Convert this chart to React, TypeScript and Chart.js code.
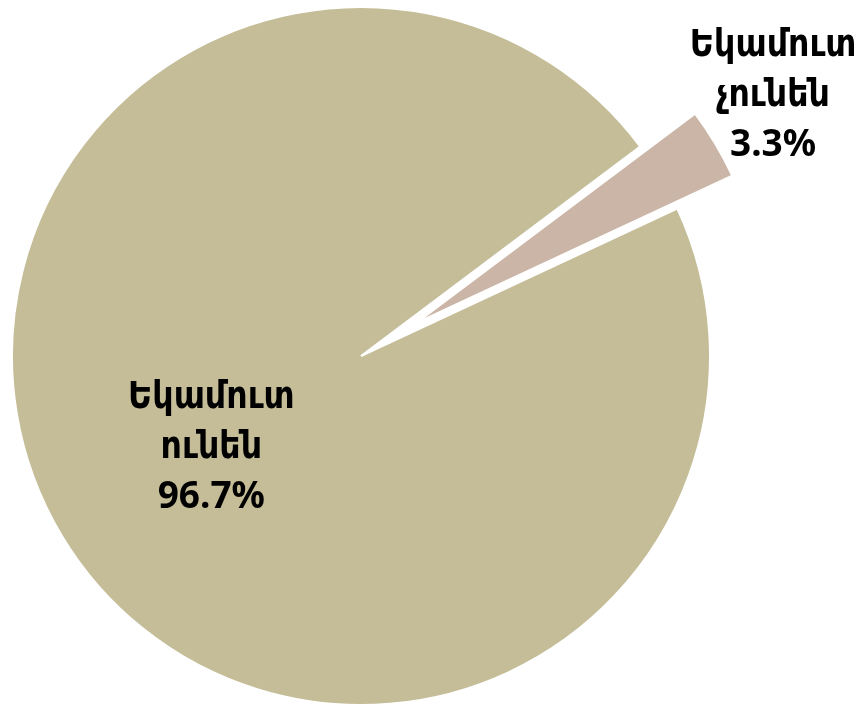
import React, { useEffect, useRef } from "react";
import { Chart, registerables } from "chart.js";

Chart.register(...registerables);

const categories: string[][] = [
  ["Եկամուտ", "ունեն"],
  ["Եկամուտ", "չունեն"],
];
const values: number[] = [96.7, 3.3];
const valueLabels: string[] = ["96.7%", "3.3%"];
const colors: string[] = ["#C4BD97", "#CAB5A7"];
const explode: number[] = [0, 64];

const FONT = "bold 37px 'Noto Sans', 'DejaVu Sans Condensed', 'DejaVu Sans', sans-serif";

// draws each arc element, pushing exploded slices out by a fixed distance
const explodePlugin = {
  id: "explodeSlices",
  beforeDatasetDraw(chart: any, args: any) {
    const meta = args.meta;
    const ctx = chart.ctx;
    meta.data.forEach((arc: any, i: number) => {
      const { startAngle, endAngle } = arc.getProps(["startAngle", "endAngle"], true);
      const mid = (startAngle + endAngle) / 2;
      const d = explode[i] || 0;
      ctx.save();
      ctx.translate(Math.cos(mid) * d, Math.sin(mid) * d);
      arc.draw(ctx, chart.chartArea);
      ctx.restore();
    });
    return false;
  },
};

const labelPlugin = {
  id: "sliceLabels",
  afterDatasetsDraw(chart: any) {
    const meta = chart.getDatasetMeta(0);
    const ctx = chart.ctx;
    ctx.save();
    ctx.font = FONT;
    ctx.fillStyle = "#000";
    ctx.textAlign = "center";
    ctx.textBaseline = "alphabetic";
    meta.data.forEach((arc: any, i: number) => {
      const { x, y, startAngle, endAngle, outerRadius } = arc.getProps(
        ["x", "y", "startAngle", "endAngle", "outerRadius"],
        true
      );
      const mid = (startAngle + endAngle) / 2;
      const off = explode[i] || 0;
      const ox = x + Math.cos(mid) * off;
      const oy = y + Math.sin(mid) * off;
      let cx: number, cy: number;
      if (i === 0) {
        cx = ox + Math.cos(mid) * outerRadius * 0.5;
        cy = oy + Math.sin(mid) * outerRadius * 0.5;
      } else {
        const a = mid - 0.0304;
        cx = ox + Math.cos(a) * outerRadius * 1.216;
        cy = oy + Math.sin(a) * outerRadius * 1.216;
      }
      const lines = [...categories[i], valueLabels[i]];
      const lh = 50;
      lines.forEach((t, k) => {
        ctx.fillText(t, cx, cy + (k - 1) * lh + 12);
      });
    });
    ctx.restore();
  },
};

export default function App() {
  const ref = useRef<HTMLCanvasElement | null>(null);
  useEffect(() => {
    if (!ref.current) return;
    const chart = new Chart(ref.current, {
      type: "pie",
      data: {
        labels: categories.map((c) => c.join(" ")),
        datasets: [
          {
            data: values,
            backgroundColor: colors,
            borderColor: "#ffffff",
            borderWidth: 2,
            radius: 349,
          } as any,
        ],
      },
      options: {
        animation: false,
        responsive: true,
        maintainAspectRatio: false,
        rotation: 65,
        layout: { padding: { left: 0, right: 140, top: 6, bottom: 0 } },
        plugins: {
          legend: { display: false },
          tooltip: { enabled: false },
        },
      } as any,
      plugins: [explodePlugin, labelPlugin],
    });
    return () => chart.destroy();
  }, []);
  return (
    <div
      style={{
        position: "fixed",
        left: 0,
        top: 0,
        width: 862,
        height: 706,
        background: "#fff",
      }}
    >
      <canvas ref={ref} />
    </div>
  );
}
